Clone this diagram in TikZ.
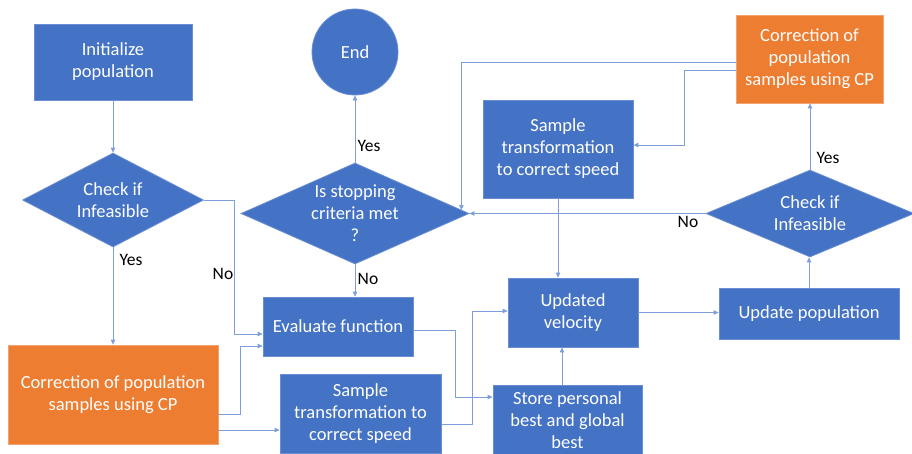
\documentclass[tikz,border=0pt]{standalone}
\usepackage{fontspec}
\setmainfont{Carlito}
\usetikzlibrary{arrows.meta,shapes.geometric,calc}
\definecolor{boxblue}{HTML}{4472C4}
\definecolor{boxline}{HTML}{6A8ED3}
\definecolor{boxorange}{HTML}{ED7D31}
\definecolor{orangeline}{HTML}{F4A36E}
\definecolor{conn}{HTML}{7F9FDB}
\begin{document}
\begin{tikzpicture}[x=1pt,y=-1pt,
  txt/.style={text=white,align=center,font=\fontsize{18.5}{22}\selectfont},
  bluebox/.style={rectangle,fill=boxblue,draw=boxline,line width=0.8pt,txt,inner sep=0pt},
  orangebox/.style={rectangle,fill=boxorange,draw=orangeline,line width=0.8pt,txt,inner sep=0pt},
  dia/.style={diamond,fill=boxblue,draw=boxline,line width=0.8pt,inner sep=0pt},
  arr/.style={draw=conn,line width=0.8pt,-{Triangle[length=5pt,width=4.5pt]}},
  lab/.style={text=black,font=\fontsize{17.5}{20}\selectfont,inner sep=0pt}]
\useasboundingbox (0,0) rectangle (912,453);
% nodes
\node[bluebox,minimum width=158pt,minimum height=76pt] (init) at (113,62) {Initialize\\population};
\node[circle,fill=boxblue,draw=boxline,line width=0.8pt,minimum size=86pt,txt,inner sep=0pt] (endc) at (355,52) {End};
\node[dia,minimum width=181pt,minimum height=94pt] (c1) at (113,200) {};
\node[txt] at (c1) {Check if\\Infeasible};
\node[dia,minimum width=228pt,minimum height=101pt] (c2) at (355,213.5) {};
\node[txt] at (c2) {Is stopping\\criteria met\\?};
\node[bluebox,minimum width=150pt,minimum height=59pt] (eval) at (338,326.5) {Evaluate function};
\node[orangebox,minimum width=210pt,minimum height=99pt] (corrL) at (113,394.5) {Correction of population\\samples using CP};
\node[bluebox,minimum width=161pt,minimum height=79pt] (st1) at (360.5,413.5) {Sample\\transformation to\\correct speed};
\node[bluebox,minimum width=149pt,minimum height=70pt] (store) at (567.5,420) {Store personal\\best and global\\best};
\node[bluebox,minimum width=130pt,minimum height=69pt] (vel) at (573,312.5) {Updated\\velocity};
\node[bluebox,minimum width=180pt,minimum height=51pt] (upd) at (809,313.5) {Update population};
\node[dia,minimum width=208pt,minimum height=87pt] (c3) at (810,213.5) {};
\node[txt] at (c3) {Check if\\Infeasible};
\node[orangebox,minimum width=147pt,minimum height=88pt] (corrR) at (809.5,59) {Correction of\\population\\samples using CP};
\node[bluebox,minimum width=150pt,minimum height=98pt] (st2) at (558,149) {Sample\\transformation\\to correct speed};
% connectors
\draw[arr] (init.south) -- (c1.north);
\draw[arr] (c1.south) -- (corrL.north);
\draw[arr] (c1.east) -- ++(30,0) |- ([yshift=-7.5pt]eval.west);
\draw[arr] ([yshift=-19.5pt]corrL.east) -- ++(22,0) |- ([yshift=-19.5pt]eval.west);
\draw[arr] ([yshift=-35.5pt]corrL.east) -- ([yshift=-16.5pt]st1.west);
\draw[arr] ([yshift=-3.5pt]eval.east) -- ++(42,0) |- ([yshift=23pt]store.west);
\draw[arr] ([yshift=-10.5pt]st1.east) -- ++(31,0) |- ([yshift=1.5pt]vel.west);
\draw[arr] ([xshift=-5.5pt]store.north) -- ([xshift=-11pt]vel.south);
\draw[arr] (vel.east) -- (vel.east -| upd.west);
\draw[arr] (upd.north) -- (upd.north |- c3.south);
\draw[arr] (c3.north) -- (c3.north |- corrR.south);
\draw[arr] (c3.west) -- (c2.east);
\draw[arr] ([yshift=-3pt]corrR.west) -| ([xshift=-8pt,yshift=3.5pt]c2.east);
\draw[arr] ([yshift=-11pt]corrR.west) -- ++(-51,0) |- ([yshift=4pt]st2.east);
\draw[arr] (st2.south) -- (st2.south |- vel.north);
\draw[arr] (c2.north) -- (endc.south);
\draw[arr] (c2.south) -- (c2.south |- eval.north);
% labels
\node[lab] (l1) at (369,146) {Yes};
\node[lab] (l2) at (368,279) {No};
\node[lab] (l3) at (131,260) {Yes};
\node[lab] (l4) at (223,274) {No};
\node[lab] (l5) at (688,222) {No};
\node[lab] (l6) at (828,158) {Yes};
\end{tikzpicture}
\end{document}
